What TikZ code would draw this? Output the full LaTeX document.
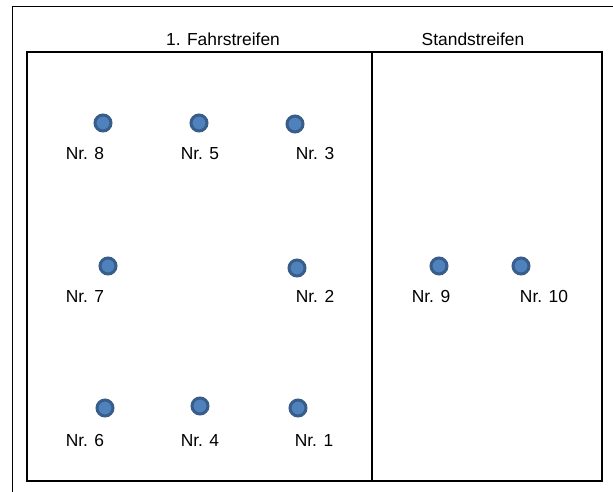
\documentclass[tikz,border=0pt]{standalone}
\usepackage{fontspec}
\setmainfont{Liberation Sans}
\begin{document}
\begin{tikzpicture}[x=1pt,y=-1pt,
  dot/.style={circle,fill=dotfill,draw=dotline,line width=3pt,minimum size=16pt,inner sep=0pt},
  lbl/.style={anchor=base,inner sep=0pt,font=\fontsize{17.4}{20}\selectfont},
  lane/.style={draw=black,line width=2pt}]
\definecolor{dotfill}{HTML}{4F81BD}
\definecolor{dotline}{HTML}{385D8A}
\useasboundingbox (0,0) rectangle (613,492);
% outer frame (top and left edges)
\draw[line width=1pt] (613,7) -- (12,7) -- (12,492);
% lanes
\draw[lane] (27,52) rectangle (602,481);
\draw[lane] (372,52) -- (372,481);
% headings
\node[lbl] (h1) at (223,46) {1. Fahrstreifen};
\node[lbl] (h2) at (473,46) {Standstreifen};
% measuring points
\node[dot] (p8) at (103,123) {};
\node[dot] (p5) at (199,123) {};
\node[dot] (p3) at (295,124) {};
\node[dot] (p7) at (108,266) {};
\node[dot] (p2) at (297,268) {};
\node[dot] (p9) at (439,266) {};
\node[dot] (p10) at (521,266) {};
\node[dot] (p6) at (105,408) {};
\node[dot] (p4) at (200,406) {};
\node[dot] (p1) at (298,408) {};
% labels
\node[lbl] (l8) at (85,159.5) {Nr. 8};
\node[lbl] (l5) at (200,159.5) {Nr. 5};
\node[lbl] (l3) at (315,159.5) {Nr. 3};
\node[lbl] (l7) at (85,302.5) {Nr. 7};
\node[lbl] (l2) at (315,302.5) {Nr. 2};
\node[lbl] (l9) at (431,302.5) {Nr. 9};
\node[lbl] (l10) at (544,302.5) {Nr. 10};
\node[lbl] (l6) at (85,446) {Nr. 6};
\node[lbl] (l4) at (200,446) {Nr. 4};
\node[lbl] (l1) at (314,446) {Nr. 1};
\end{tikzpicture}
\end{document}
